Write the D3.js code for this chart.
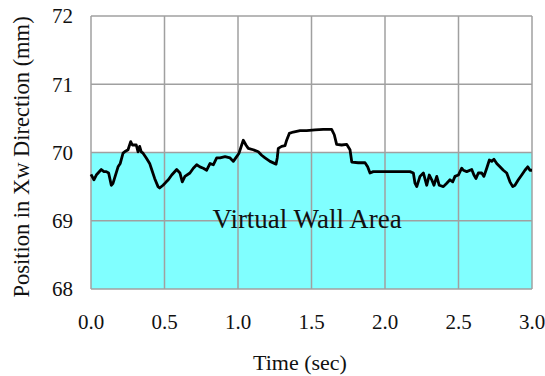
<!DOCTYPE html>
<html>
<head>
<meta charset="utf-8">
<script src="https://cdn.jsdelivr.net/npm/d3@7"></script>
<style>
  body { margin: 0; background: #fff; }
  text { font-family: "Liberation Serif", "Times New Roman", serif; fill: #111; }
</style>
</head>
<body>
<div id="chart"></div>
<script>
// time axis (sec) and measured position (mm)
const times = [0.000, 0.020, 0.036, 0.070, 0.088, 0.104, 0.120, 0.138, 0.150, 0.184, 0.199, 0.218, 0.229, 0.252, 0.270, 0.281, 0.308, 0.320, 0.331, 0.342, 0.354, 0.376, 0.399, 0.410, 0.433, 0.456, 0.467, 0.490, 0.512, 0.526, 0.549, 0.583, 0.605, 0.621, 0.639, 0.673, 0.696, 0.719, 0.741, 0.764, 0.787, 0.810, 0.832, 0.855, 0.878, 0.912, 0.946, 0.968, 0.991, 1.007, 1.025, 1.036, 1.054, 1.070, 1.104, 1.138, 1.161, 1.184, 1.218, 1.259, 1.267, 1.274, 1.297, 1.320, 1.331, 1.349, 1.376, 1.422, 1.467, 1.524, 1.580, 1.637, 1.655, 1.671, 1.705, 1.739, 1.762, 1.774, 1.818, 1.864, 1.882, 1.898, 1.920, 1.978, 2.068, 2.170, 2.193, 2.204, 2.216, 2.238, 2.261, 2.284, 2.301, 2.318, 2.333, 2.352, 2.369, 2.397, 2.420, 2.442, 2.461, 2.476, 2.499, 2.522, 2.533, 2.556, 2.590, 2.605, 2.619, 2.635, 2.658, 2.673, 2.692, 2.710, 2.726, 2.741, 2.760, 2.782, 2.805, 2.828, 2.850, 2.869, 2.884, 2.907, 2.930, 2.952, 2.971, 2.986, 3.000];
const position = [69.68, 69.60, 69.67, 69.75, 69.72, 69.72, 69.70, 69.52, 69.55, 69.79, 69.84, 69.99, 70.01, 70.04, 70.16, 70.11, 70.11, 70.01, 70.09, 70.01, 69.99, 69.92, 69.84, 69.77, 69.62, 69.50, 69.48, 69.52, 69.57, 69.60, 69.67, 69.75, 69.70, 69.57, 69.65, 69.70, 69.77, 69.82, 69.79, 69.77, 69.74, 69.84, 69.82, 69.92, 69.92, 69.94, 69.92, 69.87, 69.94, 69.99, 70.11, 70.18, 70.11, 70.06, 70.04, 70.01, 69.96, 69.92, 69.87, 69.83, 69.92, 70.06, 70.09, 70.10, 70.18, 70.28, 70.30, 70.32, 70.32, 70.33, 70.34, 70.34, 70.26, 70.12, 70.11, 70.12, 70.04, 69.86, 69.85, 69.85, 69.79, 69.70, 69.72, 69.72, 69.72, 69.72, 69.70, 69.55, 69.50, 69.65, 69.70, 69.52, 69.67, 69.60, 69.52, 69.65, 69.52, 69.50, 69.55, 69.60, 69.57, 69.65, 69.67, 69.77, 69.74, 69.72, 69.75, 69.67, 69.62, 69.70, 69.70, 69.65, 69.77, 69.89, 69.87, 69.90, 69.84, 69.79, 69.74, 69.70, 69.57, 69.50, 69.52, 69.60, 69.67, 69.74, 69.79, 69.74, 69.74];

const xTicks = [0, 0.5, 1.0, 1.5, 2.0, 2.5, 3.0];
const yTicks = [68, 69, 70, 71, 72];
const wallRange = [68, 70]; // virtual wall area

const width = 545, height = 376;
const margin = { top: 16, right: 13, bottom: 87, left: 91 };

const svg = d3.select("#chart")
  .append("svg")
    .attr("width", width)
    .attr("height", height);

const x = d3.scaleLinear().domain([0, 3]).range([margin.left, width - margin.right]);
const y = d3.scaleLinear().domain([68, 72]).range([height - margin.bottom, margin.top]);

// shaded wall area
svg.append("rect")
  .attr("x", x(0))
  .attr("y", y(wallRange[1]))
  .attr("width", x(3) - x(0))
  .attr("height", y(wallRange[0]) - y(wallRange[1]))
  .style("fill", "#80ffff");

// grid
svg.append("g")
  .selectAll("line")
  .data(xTicks)
  .enter()
  .append("line")
    .attr("x1", d => x(d)).attr("x2", d => x(d))
    .attr("y1", y(68)).attr("y2", y(72))
    .style("stroke", "#a0a0a0")
    .style("stroke-width", 1.5);

svg.append("g")
  .selectAll("line")
  .data(yTicks)
  .enter()
  .append("line")
    .attr("x1", x(0)).attr("x2", x(3))
    .attr("y1", d => y(d)).attr("y2", d => y(d))
    .style("stroke", "#a0a0a0")
    .style("stroke-width", 1.5);

svg.append("text")
  .attr("x", x(1.47))
  .attr("y", 228)
  .attr("text-anchor", "middle")
  .style("font-size", "27px")
  .text("Virtual Wall Area");

// data line
const line = d3.line()
  .x((d, i) => x(times[i]))
  .y(d => y(d));

svg.append("path")
  .datum(position)
  .attr("d", line)
  .style("fill", "none")
  .style("stroke", "#000")
  .style("stroke-width", 2.8)
  .style("stroke-linejoin", "round");

// tick labels
svg.append("g")
  .selectAll("text")
  .data(yTicks)
  .enter()
  .append("text")
    .attr("x", 73)
    .attr("y", d => y(d))
    .attr("dy", "0.35em")
    .attr("text-anchor", "end")
    .style("font-size", "21px")
    .text(d => d);

svg.append("g")
  .selectAll("text")
  .data(xTicks)
  .enter()
  .append("text")
    .attr("x", d => x(d))
    .attr("y", 322)
    .attr("dy", "0.35em")
    .attr("text-anchor", "middle")
    .style("font-size", "21px")
    .text(d => d3.format(".1f")(d));

// axis titles
svg.append("text")
  .attr("x", 300)
  .attr("y", 362)
  .attr("dy", "0.35em")
  .attr("text-anchor", "middle")
  .style("font-size", "22px")
  .text("Time (sec)");

svg.append("text")
  .attr("transform", "translate(21,157) rotate(-90)")
  .attr("dy", "0.35em")
  .attr("text-anchor", "middle")
  .style("font-size", "22.5px")
  .text("Position in Xw Direction (mm)");
</script>
</body>
</html>
